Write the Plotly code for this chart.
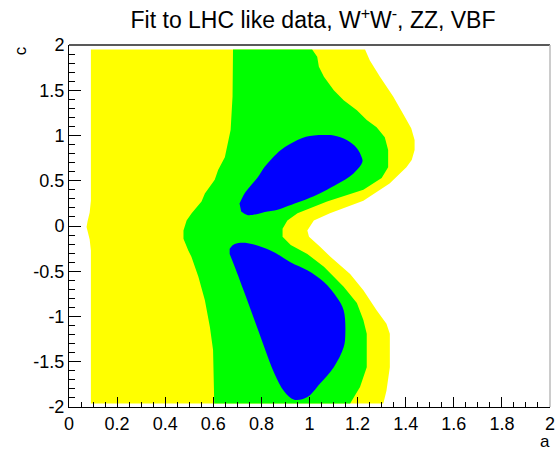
import plotly.graph_objects as go

# Allowed regions of the fit in the (a, c) plane, each stored as a closed outline.
# 3 sigma region: left edge (bottom -> top), then right edge (top -> bottom)
sig3_a = [0.091, 0.091, 0.086, 0.080, 0.073, 0.077, 0.086, 0.091, 0.091,
          1.231, 1.251, 1.293, 1.348, 1.389, 1.423, 1.437, 1.437, 1.425, 1.403,
          1.333, 1.224, 1.085, 1.018, 0.991, 0.998, 1.044, 1.087, 1.169, 1.224,
          1.279, 1.320, 1.334, 1.334, 1.320, 1.307]
sig3_c = [-1.96, -0.27, -0.15, -0.07, -0.01, 0.05, 0.15, 0.28, 1.95,
          1.95, 1.83, 1.65, 1.43, 1.24, 1.08, 0.95, 0.84, 0.73, 0.65,
          0.47, 0.28, 0.14, 0.06, -0.05, -0.12, -0.23, -0.34, -0.53, -0.71,
          -0.93, -1.08, -1.19, -1.56, -1.82, -1.96]

# 2 sigma region: left edge (bottom -> top), then right edge (top -> bottom)
sig2_a = [0.604, 0.599, 0.586, 0.565, 0.538, 0.509, 0.496, 0.476, 0.476,
          0.489, 0.510, 0.551, 0.565, 0.606, 0.620, 0.648, 0.672, 0.680, 0.682,
          1.011, 1.032, 1.039, 1.060, 1.101, 1.142, 1.197, 1.238, 1.279, 1.313,
          1.327, 1.327, 1.300, 1.224, 1.073, 0.950, 0.908, 0.888, 0.888, 0.922,
          0.991, 1.060, 1.142, 1.197, 1.224, 1.238, 1.238, 1.210, 1.169]
sig2_c = [-1.96, -1.37, -1.12, -0.82, -0.56, -0.34, -0.27, -0.14, -0.05,
          0.06, 0.14, 0.27, 0.36, 0.51, 0.62, 0.76, 1.06, 1.43, 1.95,
          1.95, 1.87, 1.76, 1.65, 1.50, 1.39, 1.28, 1.17, 1.09, 0.98,
          0.84, 0.65, 0.53, 0.40, 0.27, 0.14, 0.06, -0.03, -0.12, -0.21,
          -0.31, -0.45, -0.67, -0.85, -1.04, -1.19, -1.56, -1.78, -1.96]

# 1 sigma region, upper island
sig1_up_a = [0.709, 0.730, 0.744, 0.785, 0.812, 0.845, 0.881, 0.915, 0.950,
             0.985, 1.018, 1.060, 1.101, 1.155, 1.197, 1.217, 1.220, 1.183,
             1.114, 1.073, 1.018, 0.950, 0.854, 0.826, 0.744, 0.716]
sig1_up_c = [0.25, 0.36, 0.41, 0.54, 0.65, 0.75, 0.84, 0.90, 0.95,
             0.985, 1.00, 1.005, 1.00, 0.95, 0.86, 0.76, 0.71, 0.58,
             0.46, 0.40, 0.33, 0.26, 0.17, 0.16, 0.12, 0.16]

# 1 sigma region, lower island
sig1_lo_a = [0.668, 0.689, 0.744, 0.838, 0.921, 0.991, 1.060, 1.114, 1.142,
             1.149, 1.142, 1.101, 1.044, 0.991, 0.936, 0.895, 0.854, 0.812,
             0.771, 0.730, 0.689, 0.668]
sig1_lo_c = [-0.25, -0.20, -0.19, -0.27, -0.40, -0.49, -0.62, -0.79, -0.93,
             -1.19, -1.34, -1.56, -1.74, -1.89, -1.92, -1.83, -1.63, -1.34,
             -1.04, -0.74, -0.45, -0.31]

x_ticks = [0, 0.2, 0.4, 0.6, 0.8, 1.0, 1.2, 1.4, 1.6, 1.8, 2.0]
x_tick_text = ["0", "0.2", "0.4", "0.6", "0.8", "1", "1.2", "1.4", "1.6", "1.8", "2"]
y_ticks = [-2, -1.5, -1, -0.5, 0, 0.5, 1, 1.5, 2]
y_tick_text = ["-2", "-1.5", "-1", "-0.5", "0", "0.5", "1", "1.5", "2"]

YELLOW = "#ffff00"
GREEN = "#00ff00"
BLUE = "#0000ff"
FONT = "Liberation Sans, Arial, sans-serif"

fig = go.Figure()
# outer regions keep their straight edges at the grid limits; islands are smooth
for xs, ys, col, shape in [(sig3_a, sig3_c, YELLOW, "linear"),
                           (sig2_a, sig2_c, GREEN, "linear"),
                           (sig1_up_a, sig1_up_c, BLUE, "spline"),
                           (sig1_lo_a, sig1_lo_c, BLUE, "spline")]:
    fig.add_trace(go.Scatter(x=xs, y=ys, mode="lines", fill="toself",
                             fillcolor=col, line=dict(width=0, color=col, shape=shape),
                             hoverinfo="skip", showlegend=False))

tick_font = dict(family=FONT, size=18, color="black")

fig.update_xaxes(range=[0, 2], tickvals=x_ticks, ticktext=x_tick_text,
                 ticks="inside", ticklen=10, tickwidth=1, tickcolor="black",
                 minor=dict(dtick=0.05, ticks="inside", ticklen=5, tickcolor="black"),
                 showgrid=False, zeroline=False, showline=True, linecolor="black",
                 linewidth=1, tickfont=tick_font, ticklabeloverflow="allow")
fig.update_yaxes(range=[-2, 2], tickvals=y_ticks, ticktext=y_tick_text,
                 ticks="inside", ticklen=12, tickwidth=1, tickcolor="black",
                 minor=dict(dtick=0.1, ticks="inside", ticklen=6, tickcolor="black"),
                 showgrid=False, zeroline=False, showline=True, linecolor="black",
                 linewidth=1, tickfont=tick_font, ticklabeloverflow="allow")

# frame: top and right borders
fig.add_shape(type="line", xref="paper", yref="paper", x0=0, x1=1, y0=1, y1=1,
              line=dict(color="#222222", width=1.5))
fig.add_shape(type="line", xref="paper", yref="paper", x0=1, x1=1, y0=0, y1=1,
              line=dict(color="#bbbbbb", width=1.5))

# axis titles
fig.add_annotation(text="c", xref="paper", yref="paper", x=-0.1, y=0.985,
                   xanchor="center", yanchor="middle",
                   showarrow=False, textangle=-90,
                   font=dict(family=FONT, size=17, color="black"))
fig.add_annotation(text="a", xref="paper", yref="paper", x=0.99, y=-0.095,
                   xanchor="center", yanchor="middle", showarrow=False,
                   font=dict(family=FONT, size=17, color="black"))

fig.update_layout(
    width=556, height=449,
    margin=dict(l=69, r=1, t=45, b=42),
    paper_bgcolor="white", plot_bgcolor="white",
    title=dict(text="Fit to LHC like data, W<sup>+</sup>W<sup>-</sup>, ZZ, VBF",
               x=0.563, xanchor="center", y=0.955, yanchor="middle",
               font=dict(family=FONT, size=23, color="black")),
)

fig.write_html("out.html")
